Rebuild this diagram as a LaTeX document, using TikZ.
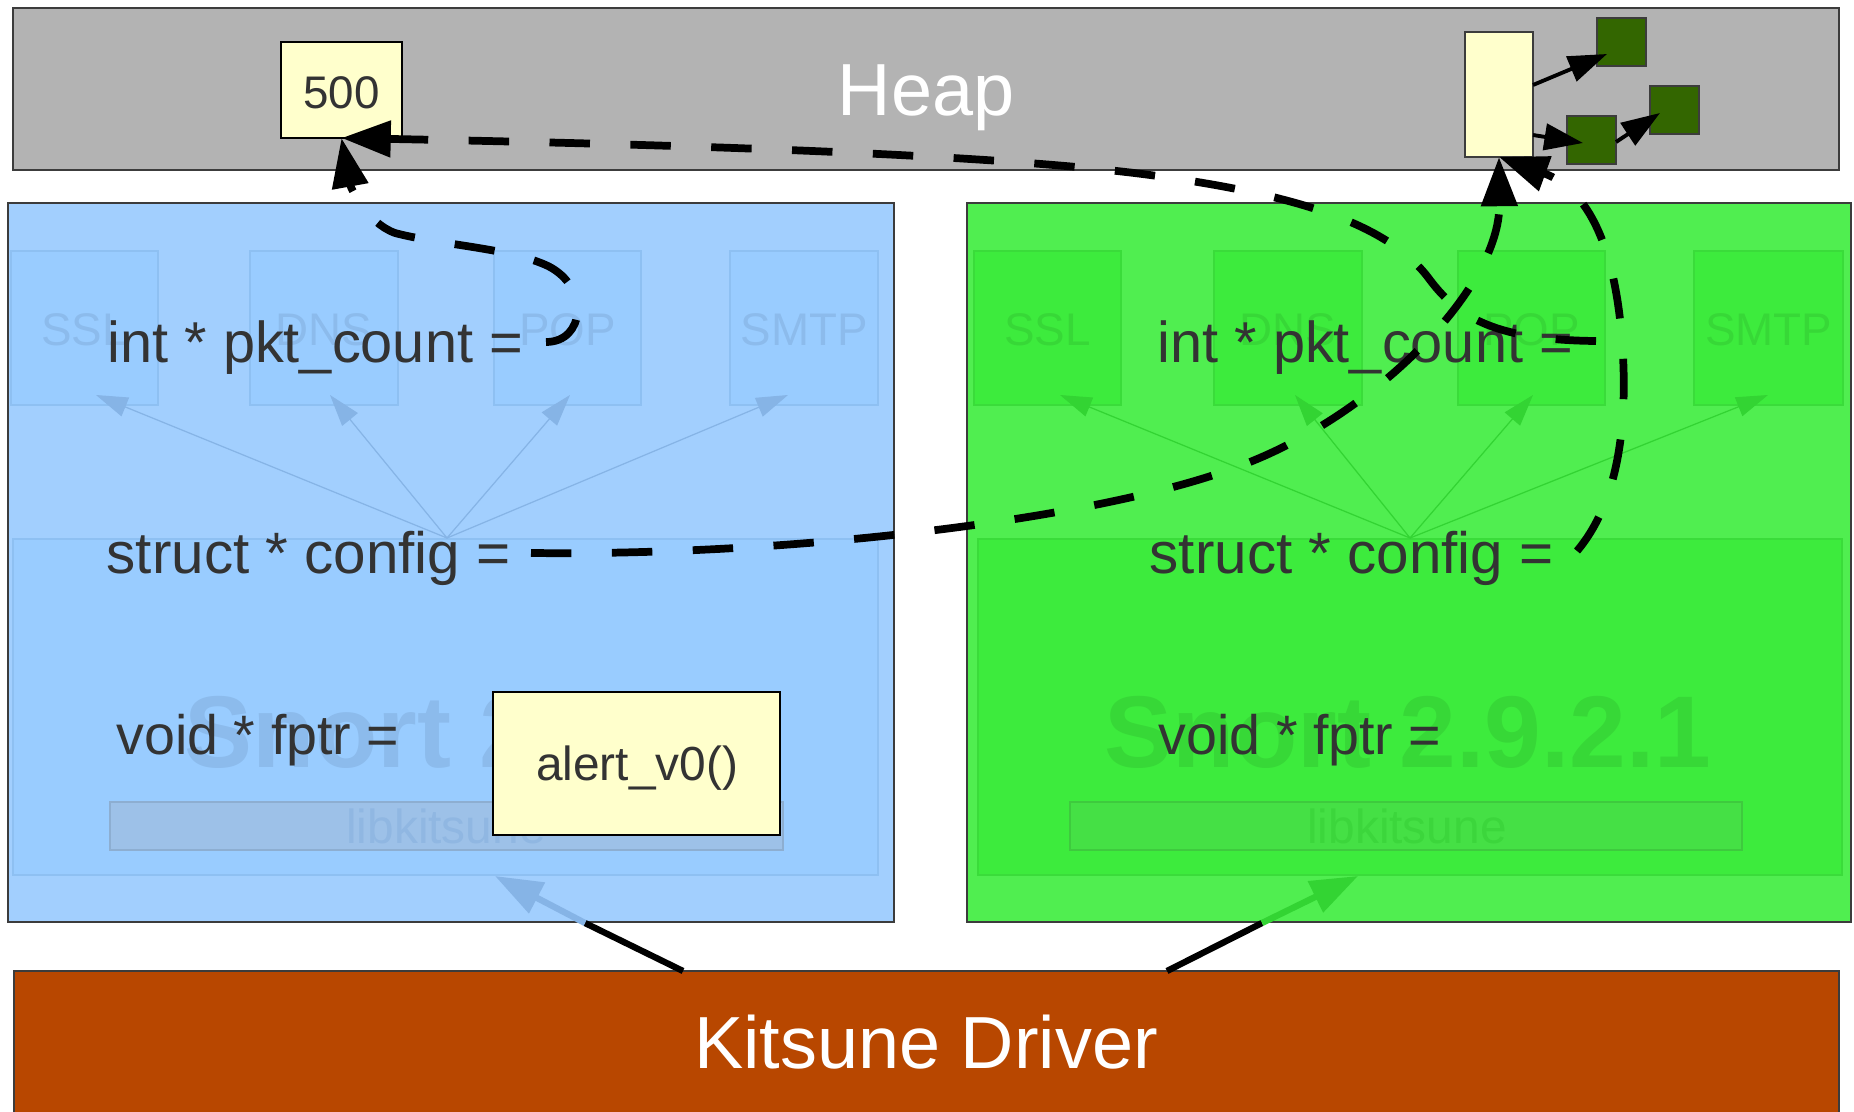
\documentclass[tikz,border=0pt]{standalone}
\usepackage{fontspec}
\setmainfont{Liberation Sans}
\usetikzlibrary{arrows.meta,fit}
\definecolor{heapgray}{HTML}{B3B3B3}
\definecolor{edgec}{HTML}{3C3C3C}
\definecolor{panelA}{HTML}{A2CFFE}
\definecolor{innerA}{HTML}{99CCFF}
\definecolor{innerAedge}{HTML}{8EC0F2}
\definecolor{faintA}{HTML}{8CBBEC}
\definecolor{libA}{HTML}{9DC1E8}
\definecolor{libAtext}{HTML}{90B7E2}
\definecolor{arrowA}{HTML}{86B4E6}
\definecolor{panelB}{HTML}{50EE50}
\definecolor{innerB}{HTML}{3DEB3D}
\definecolor{innerBedge}{HTML}{3ADC3A}
\definecolor{faintB}{HTML}{37D837}
\definecolor{libB}{HTML}{45E045}
\definecolor{libBtext}{HTML}{3CD63C}
\definecolor{arrowB}{HTML}{33D433}
\definecolor{driverc}{HTML}{B84700}
\definecolor{memyellow}{HTML}{FFFFCC}
\definecolor{objgreen}{HTML}{336600}
\definecolor{labelgray}{HTML}{333333}
\newcommand{\myfs}[1]{\fontsize{#1}{#1}\selectfont}
\begin{document}
\begin{tikzpicture}[x=0.01cm,y=-0.01cm,
  box/.style={inner sep=0pt, outer sep=0pt},
  panelbox/.style={box, line width=0.6pt},
  innerbox/.style={box, line width=0.4pt},
  faint/.style={inner sep=0pt, anchor=base, font=\myfs{13pt}},
  lbl/.style={inner sep=0pt, anchor=base west, text=labelgray},
  dcurve/.style={line width=2.2pt, dash pattern=on 11.5pt off 11.5pt, -{Triangle[length=14pt,width=10pt]}},
  thinarrow/.style={line width=0.35pt, -{Triangle[length=9pt,width=5.7pt]}},
  heaparrow/.style={line width=1.1pt, -{Triangle[length=11pt,width=7.5pt]}},
  drvline/.style={line width=1.8pt},
]
\useasboundingbox (0,0) rectangle (1854,1112);

% ---------- Heap ----------
\node[panelbox, draw=edgec, fill=heapgray, fit={(13,8) (1839,170)}] (heap) {};
\node[inner sep=0pt, anchor=base, text=white, font=\myfs{21pt}] (heaplbl) at (926,115) {Heap};

% ---------- Left panel (blue) ----------
\node[panelbox, draw=edgec, fill=panelA, fit={(8,203) (894,922)}] (panA) {};
\node[innerbox, draw=innerAedge, fill=innerA, fit={(11,251) (158,405)}] (sslA) {};
\node[innerbox, draw=innerAedge, fill=innerA, fit={(250,251) (398,405)}] (dnsA) {};
\node[innerbox, draw=innerAedge, fill=innerA, fit={(494,251) (641,405)}] (popA) {};
\node[innerbox, draw=innerAedge, fill=innerA, fit={(730,251) (878,405)}] (smtpA) {};
\node[faint, text=faintA] (sslAt) at (84.5,345) {SSL};
\node[faint, text=faintA] (dnsAt) at (324,345) {DNS};
\node[faint, text=faintA] (popAt) at (567.5,345) {POP};
\node[faint, text=faintA] (smtpAt) at (804,345) {SMTP};
\node[innerbox, draw=innerAedge, fill=innerA, fit={(13,539) (878,875)}] (snortA) {};
\node[inner sep=0pt, anchor=base, text=faintA, font=\myfs{29pt}\bfseries] (snortAt) at (445.5,767) {Snort 2.9.2};
\node[innerbox, draw=libA!90!black, fill=libA, fit={(110,802) (783,850)}] (libA) {};
\node[inner sep=0pt, anchor=base, text=libAtext, font=\myfs{13.6pt}] (libAt) at (446,843) {libkitsune};

\coordinate (cfgA) at (447,538);
\coordinate (tsslA) at (96,395);
\coordinate (tdnsA) at (330,395);
\coordinate (tpopA) at (570,395);
\coordinate (tsmtpA) at (788,395);
\foreach \t in {tsslA,tdnsA,tpopA,tsmtpA}
  \draw[thinarrow, draw=arrowA, fill=arrowA] (cfgA) -- (\t);

% ---------- Right panel (green) ----------
\node[panelbox, draw=edgec, fill=panelB, fit={(967,203) (1851,922)}] (panB) {};
\node[innerbox, draw=innerBedge, fill=innerB, fit={(974,251) (1121,405)}] (sslB) {};
\node[innerbox, draw=innerBedge, fill=innerB, fit={(1214,251) (1362,405)}] (dnsB) {};
\node[innerbox, draw=innerBedge, fill=innerB, fit={(1458,251) (1605,405)}] (popB) {};
\node[innerbox, draw=innerBedge, fill=innerB, fit={(1694,251) (1843,405)}] (smtpB) {};
\node[faint, text=faintB] (sslBt) at (1047.5,345) {SSL};
\node[faint, text=faintB] (dnsBt) at (1288,345) {DNS};
\node[faint, text=faintB] (popBt) at (1531.5,345) {POP};
\node[faint, text=faintB] (smtpBt) at (1768.5,345) {SMTP};
\node[innerbox, draw=innerBedge, fill=innerB, fit={(978,539) (1842,875)}] (snortB) {};
\node[inner sep=0pt, anchor=base, text=faintB, font=\myfs{29pt}\bfseries] (snortBt) at (1408,767) {Snort 2.9.2.1};
\node[innerbox, draw=libB!90!black, fill=libB, fit={(1070,802) (1742,850)}] (libB) {};
\node[inner sep=0pt, anchor=base, text=libBtext, font=\myfs{13.6pt}] (libBt) at (1407,843) {libkitsune};

\coordinate (cfgB) at (1410,538);
\coordinate (tsslB) at (1060,395);
\coordinate (tdnsB) at (1295,395);
\coordinate (tpopB) at (1533,395);
\coordinate (tsmtpB) at (1768,395);
\foreach \t in {tsslB,tdnsB,tpopB,tsmtpB}
  \draw[thinarrow, draw=arrowB, fill=arrowB] (cfgB) -- (\t);

% ---------- Labels ----------
\node[lbl, font=\myfs{16.4pt}] (pktA) at (107,362) {int * pkt\_count =};
\node[lbl, font=\myfs{16.6pt}] (cfgAt) at (106,573) {struct * config =};
\node[lbl, font=\myfs{15.8pt}] (fpA) at (116,754) {void * fptr =};
\node[lbl, font=\myfs{16.4pt}] (pktB) at (1157,362) {int * pkt\_count =};
\node[lbl, font=\myfs{16.6pt}] (cfgBt) at (1149,573) {struct * config =};
\node[lbl, font=\myfs{15.8pt}] (fpB) at (1158,754) {void * fptr =};

% alert box
\node[box, draw=black, line width=0.6pt, fill=memyellow, fit={(493,692) (780,835)}] (alert) {};
\node[inner sep=0pt, anchor=base, text=labelgray, font=\myfs{13.6pt}] (alertt) at (637,780) {alert\_v0()};

% ---------- Kitsune Driver ----------
\node[panelbox, draw=edgec, fill=driverc, fit={(14,971) (1839,1125)}] (driver) {};
\node[inner sep=0pt, anchor=base, text=white, font=\myfs{21pt}] (drvlbl) at (926,1068) {Kitsune Driver};

\coordinate (dA) at (683,971);
\coordinate (eA) at (585,923);
\coordinate (tA) at (495,876);
\coordinate (dB) at (1167,971);
\coordinate (eB) at (1262,923);
\coordinate (tB) at (1358,876);
\draw[drvline, black] (dA) -- (eA);
\draw[drvline, draw=arrowA, fill=arrowA, -{Triangle[length=13.5pt,width=9.5pt]}] (eA) -- (tA);
\draw[drvline, black] (dB) -- (eB);
\draw[drvline, draw=arrowB, fill=arrowB, -{Triangle[length=13.5pt,width=9.5pt]}] (eB) -- (tB);

% ---------- Heap objects ----------
\node[box, draw=black, line width=0.6pt, fill=memyellow, fit={(281,42) (402,138)}] (v500) {};
\node[inner sep=0pt, anchor=base, text=labelgray, font=\myfs{13pt}] (v500t) at (341.5,108) {500};

\node[box, draw=edgec, line width=0.6pt, fill=memyellow, fit={(1465,32) (1533,157)}] (objY) {};
\node[box, draw=edgec, line width=0.6pt, fill=objgreen, fit={(1597,18) (1646,66)}] (sq1) {};
\node[box, draw=edgec, line width=0.6pt, fill=objgreen, fit={(1567,116) (1616,164)}] (sq2) {};
\node[box, draw=edgec, line width=0.6pt, fill=objgreen, fit={(1650,86) (1699,134)}] (sq3) {};

\coordinate (h1s) at (1533,85);
\coordinate (h1e) at (1607,54);
\coordinate (h2s) at (1533,135);
\coordinate (h2e) at (1583,143);
\coordinate (h3s) at (1616,142);
\coordinate (h3e) at (1660,113);
\draw[heaparrow] (h1s) -- (h1e);
\draw[heaparrow] (h2s) -- (h2e);
\draw[heaparrow] (h3s) -- (h3e);

% ---------- Dashed pointer curves ----------
\coordinate (pA) at (546,342);
\coordinate (pB) at (1596,341);
\coordinate (pC) at (531,553);
\coordinate (pD) at (1577,551);

\draw[dcurve] (pA) .. controls (585,342) and (590,287) .. (548,266)
  .. controls (510,248) and (440,245) .. (395,233)
  .. controls (365,222) and (350,185) .. (v500.south);

\draw[dcurve] (pB) .. controls (1500,340) and (1460,320) .. (1430,280)
  .. controls (1390,225) and (1300,195) .. (1150,175)
  .. controls (1000,155) and (700,145) .. (v500.south);

\draw[dcurve] (pC) .. controls (800,556) and (1100,518) .. (1234,468)
  .. controls (1370,420) and (1500,290) .. (objY.south);

\draw[dcurve] (pD) .. controls (1620,500) and (1628,420) .. (1622,340)
  .. controls (1615,250) and (1590,190) .. (objY.south);

\end{tikzpicture}
\end{document}
